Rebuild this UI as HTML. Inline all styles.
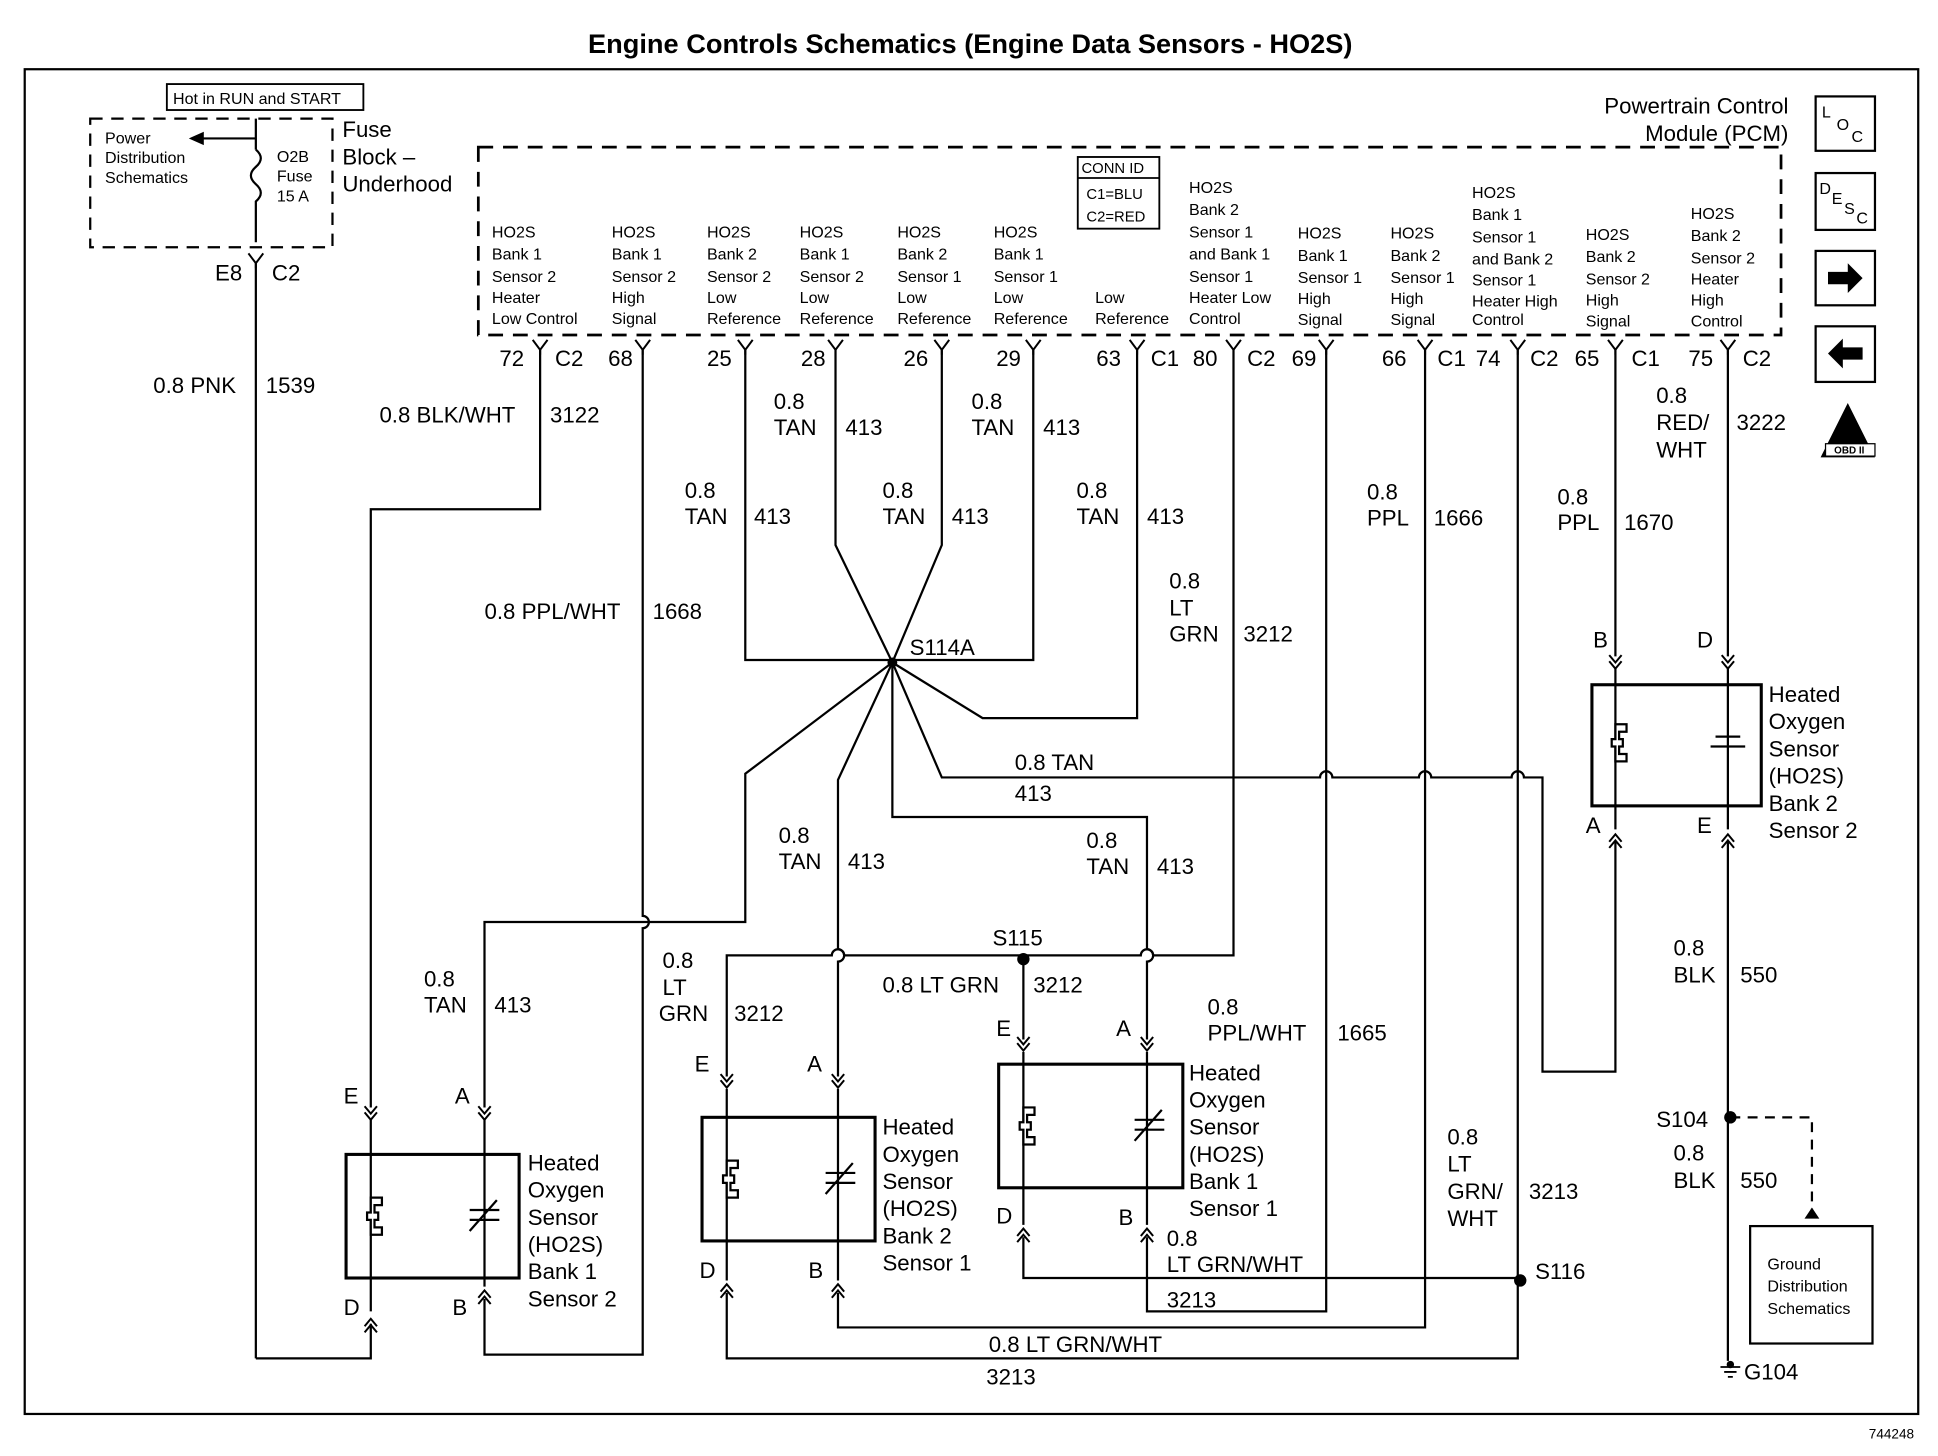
<!DOCTYPE html>
<html><head><meta charset="utf-8"><style>
html,body{margin:0;padding:0;background:#fff}
svg{display:block}
text{font-family:"Liberation Sans",Arial,sans-serif;fill:#000}
.w{font-size:18px}
.p{font-size:13px}
.s{font-size:18px}
</style></head><body>
<svg width="1938" height="1456" viewBox="0 0 1568 1176" xmlns="http://www.w3.org/2000/svg">
<defs>
<g id="y"><path d="M-6,-8 L0,0 L6,-8 M0,0 L0,4" fill="none" stroke="#000" stroke-width="1.6"/></g>
<g id="dn"><path d="M-5,-9 L0,-3 L5,-9 M-5,-4 L0,2 L5,-4" fill="none" stroke="#000" stroke-width="1.6"/></g>
<g id="up"><path d="M-5,9 L0,3 L5,9 M-5,4 L0,-2 L5,4" fill="none" stroke="#000" stroke-width="1.6"/></g>
<g id="ht"><path d="M0,-15 h-9 v12 h-3 v6 h3 v12 h9 v-6 h-6 v-6 h3 v-6 h-3 v-6 h6z" fill="#fff" stroke="#000" stroke-width="1.8"/></g>
</defs>
<g fill="none" stroke="#000" stroke-width="1.8">
<rect x="20" y="55" width="1532" height="1088"/>
<rect x="135" y="67" width="159" height="21" stroke-width="1.5"/>
<rect x="73" y="95" width="196" height="104" stroke-dasharray="10,7"/>
<rect x="387" y="118" width="1054" height="152" stroke-dasharray="12,8" stroke-width="2.2"/>
<rect x="872" y="126" width="66" height="58" stroke-width="1.5"/>
<line x1="872" y1="143" x2="938" y2="143" stroke-width="1.5"/>
<path d="M207,95 V120 M207,111 H162 M207,120 q8,7 0,14 q-8,7 0,14 q8,7 0,14 V195"/>
<path d="M155,111 l9,-4 v8 z" fill="#000"/>
<line x1="207" y1="212" x2="207" y2="1098"/>
<path d="M207,1098 H300 V1070"/>
<path d="M437,282 V411 H300 V895"/>
<path d="M520,282 V740 a5,5 0 0 1 0,10 V1095 H392 V1050"/>
<path d="M603,282 V533 H836 V282"/>
<path d="M676,282 V440 L722,535 L762,440 V282"/>
<path d="M920,282 V580 H795 L722,535"/>
<path d="M722,535 L603,625 V745 H392 V895"/>
<path d="M722,535 L678,630 V767 a5,5 0 0 1 0,10 V870"/>
<path d="M722,535 V660 H928 V767 a5,5 0 0 1 0,10 V840"/>
<path d="M722,535 L762,628 H1068 a5,5 0 0 1 10,0 H1148 a5,5 0 0 1 10,0 H1223 a5,5 0 0 1 10,0 H1248 V866 H1307 V680"/>
<path d="M998,282 V772 H933 a5,5 0 0 0 -10,0 H683 a5,5 0 0 0 -10,0 H588 V870"/>
<path d="M828,772 V840"/>
<path d="M1073,282 V1060 H928 V1000"/>
<path d="M1153,282 V1073 H678 V1045"/>
<path d="M1228,282 V1098 H588 V1045"/>
<path d="M828,1000 V1033 H1228"/>
<path d="M1307,282 V530"/>
<path d="M1398,282 V530"/>
<path d="M1398,680 V1100"/>
<path d="M1400,903 H1466 V980" stroke-dasharray="8,6"/>
<rect x="1416" y="991" width="99" height="95"/>
<rect x="280" y="933" width="140" height="100" stroke-width="2.5"/>
<rect x="568" y="903" width="140" height="100" stroke-width="2.5"/>
<rect x="808" y="860" width="149" height="100" stroke-width="2.5"/>
<rect x="1288" y="553" width="137" height="98" stroke-width="2.5"/>
<path d="M300,905 V1060 M392,905 V1040 M588,880 V1035 M678,880 V1035 M828,850 V990 M928,850 V990 M1307,540 V670 M1398,540 V670"/>
<rect x="1469" y="77" width="48" height="44"/>
<rect x="1469" y="139" width="48" height="46"/>
<rect x="1469" y="202" width="48" height="44"/>
<rect x="1469" y="263" width="48" height="45"/>
<path d="M1392,1105 h16 M1395,1109 h10 M1398,1113 h4" stroke-width="1.5"/>
</g>
<use href="#ht" x="309" y="983"/><use href="#ht" x="597" y="953"/><use href="#ht" x="837" y="910"/><use href="#ht" x="1316" y="600"/>
<g fill="#fff" stroke="#000" stroke-width="1.8">
<path d="M380,995 L402,970 M380,978 h24 M380,986 h24 M668,965 L690,940 M668,948 h24 M668,956 h24 M918,922 L940,897 M918,905 h24 M918,913 h24 M1388,595 h20 M1384,603 h28" fill="none"/>
</g>
<g fill="#000">
<circle cx="722" cy="535" r="4"/><circle cx="828" cy="775" r="5"/><circle cx="1230" cy="1035" r="5"/><circle cx="1400" cy="903" r="5"/><circle cx="1400" cy="1103" r="3"/>
<path d="M1460,985 l6,-9 l6,9z"/>
<path d="M1479,219 h16 v-7 l12,12 l-12,12 v-7 h-16z"/>
<path d="M1507,280 h-16 v-7 l-12,12 l12,12 v-7 h16z"/>
<path d="M1495,325 l22,44 h-44z"/>
</g>
<rect x="1477" y="358" width="40" height="10" fill="#fff" stroke="#000"/>
<text x="1484" y="366" style="font-size:8px;font-weight:bold">OBD II</text>
<g>
<use href="#y" x="207" y="212"/><use href="#y" x="437" y="282"/><use href="#y" x="520" y="282"/><use href="#y" x="603" y="282"/><use href="#y" x="676" y="282"/><use href="#y" x="762" y="282"/><use href="#y" x="836" y="282"/><use href="#y" x="920" y="282"/><use href="#y" x="998" y="282"/><use href="#y" x="1073" y="282"/><use href="#y" x="1153" y="282"/><use href="#y" x="1228" y="282"/><use href="#y" x="1307" y="282"/><use href="#y" x="1398" y="282"/>
<use href="#dn" x="300" y="903"/><use href="#dn" x="392" y="903"/><use href="#dn" x="588" y="877"/><use href="#dn" x="678" y="877"/><use href="#dn" x="828" y="847"/><use href="#dn" x="928" y="847"/><use href="#dn" x="1307" y="538"/><use href="#dn" x="1398" y="538"/>
<use href="#up" x="300" y="1068"/><use href="#up" x="392" y="1045"/><use href="#up" x="588" y="1040"/><use href="#up" x="678" y="1040"/><use href="#up" x="828" y="995"/><use href="#up" x="928" y="995"/><use href="#up" x="1307" y="676"/><use href="#up" x="1398" y="676"/>
</g>
<text x="785" y="42" text-anchor="middle" style="font-size:22px;font-weight:bold">Engine Controls Schematics (Engine Data Sensors - HO2S)</text>
<text x="1512" y="1163" style="font-size:11px">744248</text>
<text x="140" y="83" style="font-size:13px">Hot in RUN and START</text>
<text class="p" x="85" y="115">Power</text><text class="p" x="85" y="131">Distribution</text><text class="p" x="85" y="147">Schematics</text>
<text class="p" x="224" y="130">O2B</text><text class="p" x="224" y="146">Fuse</text><text class="p" x="224" y="162">15 A</text>
<text class="s" x="277" y="110">Fuse</text><text class="s" x="277" y="132">Block –</text><text class="s" x="277" y="154">Underhood</text>
<text class="s" x="174" y="226">E8</text><text class="s" x="220" y="226">C2</text>
<text class="s" x="1447" y="91" text-anchor="end">Powertrain Control</text><text class="s" x="1447" y="113" text-anchor="end">Module (PCM)</text>
<text x="1474" y="94" style="font-size:13px">L</text><text x="1486" y="104" style="font-size:13px">O</text><text x="1498" y="114" style="font-size:13px">C</text>
<text x="1472" y="156" style="font-size:13px">D</text><text x="1482" y="164" style="font-size:13px">E</text><text x="1492" y="172" style="font-size:13px">S</text><text x="1502" y="180" style="font-size:13px">C</text>
<text x="875" y="139" style="font-size:12px">CONN ID</text><text x="879" y="160" style="font-size:12px">C1=BLU</text><text x="879" y="178" style="font-size:12px">C2=RED</text>
<g class="p">
<text x="398" y="191">HO2S</text><text x="398" y="209">Bank 1</text><text x="398" y="227">Sensor 2</text><text x="398" y="244">Heater</text><text x="398" y="261">Low Control</text>
<text x="495" y="191">HO2S</text><text x="495" y="209">Bank 1</text><text x="495" y="227">Sensor 2</text><text x="495" y="244">High</text><text x="495" y="261">Signal</text>
<text x="572" y="191">HO2S</text><text x="572" y="209">Bank 2</text><text x="572" y="227">Sensor 2</text><text x="572" y="244">Low</text><text x="572" y="261">Reference</text>
<text x="647" y="191">HO2S</text><text x="647" y="209">Bank 1</text><text x="647" y="227">Sensor 2</text><text x="647" y="244">Low</text><text x="647" y="261">Reference</text>
<text x="726" y="191">HO2S</text><text x="726" y="209">Bank 2</text><text x="726" y="227">Sensor 1</text><text x="726" y="244">Low</text><text x="726" y="261">Reference</text>
<text x="804" y="191">HO2S</text><text x="804" y="209">Bank 1</text><text x="804" y="227">Sensor 1</text><text x="804" y="244">Low</text><text x="804" y="261">Reference</text>
<text x="886" y="244">Low</text><text x="886" y="261">Reference</text>
<text x="962" y="155">HO2S</text><text x="962" y="173">Bank 2</text><text x="962" y="191">Sensor 1</text><text x="962" y="209">and Bank 1</text><text x="962" y="227">Sensor 1</text><text x="962" y="244">Heater Low</text><text x="962" y="261">Control</text>
<text x="1050" y="192">HO2S</text><text x="1050" y="210">Bank 1</text><text x="1050" y="228">Sensor 1</text><text x="1050" y="245">High</text><text x="1050" y="262">Signal</text>
<text x="1125" y="192">HO2S</text><text x="1125" y="210">Bank 2</text><text x="1125" y="228">Sensor 1</text><text x="1125" y="245">High</text><text x="1125" y="262">Signal</text>
<text x="1191" y="159">HO2S</text><text x="1191" y="177">Bank 1</text><text x="1191" y="195">Sensor 1</text><text x="1191" y="213">and Bank 2</text><text x="1191" y="230">Sensor 1</text><text x="1191" y="247">Heater High</text><text x="1191" y="262">Control</text>
<text x="1283" y="193">HO2S</text><text x="1283" y="211">Bank 2</text><text x="1283" y="229">Sensor 2</text><text x="1283" y="246">High</text><text x="1283" y="263">Signal</text>
<text x="1368" y="176">HO2S</text><text x="1368" y="194">Bank 2</text><text x="1368" y="212">Sensor 2</text><text x="1368" y="229">Heater</text><text x="1368" y="246">High</text><text x="1368" y="263">Control</text>
</g>
<g class="w">
<text x="404" y="295">72</text><text x="449" y="295">C2</text><text x="492" y="295">68</text><text x="572" y="295">25</text><text x="648" y="295">28</text><text x="731" y="295">26</text><text x="806" y="295">29</text><text x="887" y="295">63</text><text x="931" y="295">C1</text><text x="965" y="295">80</text><text x="1009" y="295">C2</text><text x="1045" y="295">69</text><text x="1118" y="295">66</text><text x="1163" y="295">C1</text><text x="1194" y="295">74</text><text x="1238" y="295">C2</text><text x="1274" y="295">65</text><text x="1320" y="295">C1</text><text x="1366" y="295">75</text><text x="1410" y="295">C2</text>
<text x="124" y="317">0.8 PNK</text><text x="215" y="317">1539</text>
<text x="307" y="341">0.8 BLK/WHT</text><text x="445" y="341">3122</text>
<text x="626" y="330">0.8</text><text x="626" y="351">TAN</text><text x="684" y="351">413</text>
<text x="786" y="330">0.8</text><text x="786" y="351">TAN</text><text x="844" y="351">413</text>
<text x="554" y="402">0.8</text><text x="554" y="423">TAN</text><text x="610" y="423">413</text>
<text x="714" y="402">0.8</text><text x="714" y="423">TAN</text><text x="770" y="423">413</text>
<text x="871" y="402">0.8</text><text x="871" y="423">TAN</text><text x="928" y="423">413</text>
<text x="392" y="500">0.8 PPL/WHT</text><text x="528" y="500">1668</text>
<text x="736" y="529">S114A</text>
<text x="946" y="475">0.8</text><text x="946" y="497">LT</text><text x="946" y="518">GRN</text><text x="1006" y="518">3212</text>
<text x="1106" y="403">0.8</text><text x="1106" y="424">PPL</text><text x="1160" y="424">1666</text>
<text x="1260" y="407">0.8</text><text x="1260" y="428">PPL</text><text x="1314" y="428">1670</text>
<text x="1340" y="325">0.8</text><text x="1340" y="347">RED/</text><text x="1340" y="369">WHT</text><text x="1405" y="347">3222</text>
<text x="1289" y="523">B</text><text x="1373" y="523">D</text><text x="1283" y="673">A</text><text x="1373" y="673">E</text>
<text x="1431" y="567">Heated</text><text x="1431" y="589">Oxygen</text><text x="1431" y="611">Sensor</text><text x="1431" y="633">(HO2S)</text><text x="1431" y="655">Bank 2</text><text x="1431" y="677">Sensor 2</text>
<text x="821" y="622">0.8 TAN</text><text x="821" y="647">413</text>
<text x="630" y="681">0.8</text><text x="630" y="702">TAN</text><text x="686" y="702">413</text>
<text x="879" y="685">0.8</text><text x="879" y="706">TAN</text><text x="936" y="706">413</text>
<text x="803" y="764">S115</text>
<text x="343" y="797">0.8</text><text x="343" y="818">TAN</text><text x="400" y="818">413</text>
<text x="536" y="782">0.8</text><text x="536" y="804">LT</text><text x="533" y="825">GRN</text><text x="594" y="825">3212</text>
<text x="714" y="802">0.8 LT GRN</text><text x="836" y="802">3212</text>
<text x="977" y="820">0.8</text><text x="977" y="841">PPL/WHT</text><text x="1082" y="841">1665</text>
<text x="1354" y="772">0.8</text><text x="1354" y="794">BLK</text><text x="1408" y="794">550</text>
<text x="1340" y="911">S104</text>
<text x="1354" y="938">0.8</text><text x="1354" y="960">BLK</text><text x="1408" y="960">550</text>
<text x="1411" y="1115">G104</text>
<text x="278" y="892">E</text><text x="368" y="892">A</text><text x="562" y="866">E</text><text x="653" y="866">A</text><text x="806" y="837">E</text><text x="903" y="837">A</text>
<text x="278" y="1063">D</text><text x="366" y="1063">B</text><text x="566" y="1033">D</text><text x="654" y="1033">B</text><text x="806" y="989">D</text><text x="905" y="990">B</text>
<text x="427" y="946">Heated</text><text x="427" y="968">Oxygen</text><text x="427" y="990">Sensor</text><text x="427" y="1012">(HO2S)</text><text x="427" y="1034">Bank 1</text><text x="427" y="1056">Sensor 2</text>
<text x="714" y="917">Heated</text><text x="714" y="939">Oxygen</text><text x="714" y="961">Sensor</text><text x="714" y="983">(HO2S)</text><text x="714" y="1005">Bank 2</text><text x="714" y="1027">Sensor 1</text>
<text x="962" y="873">Heated</text><text x="962" y="895">Oxygen</text><text x="962" y="917">Sensor</text><text x="962" y="939">(HO2S)</text><text x="962" y="961">Bank 1</text><text x="962" y="983">Sensor 1</text>
<text x="944" y="1007">0.8</text><text x="944" y="1028">LT GRN/WHT</text><text x="944" y="1057">3213</text>
<text x="1171" y="925">0.8</text><text x="1171" y="947">LT</text><text x="1171" y="969">GRN/</text><text x="1171" y="991">WHT</text><text x="1237" y="969">3213</text>
<text x="1242" y="1034">S116</text>
<text x="800" y="1093">0.8 LT GRN/WHT</text><text x="798" y="1119">3213</text>
</g>
<text x="1430" y="1026" class="p">Ground</text><text x="1430" y="1044" class="p">Distribution</text><text x="1430" y="1062" class="p">Schematics</text>
</svg>
</body></html>
